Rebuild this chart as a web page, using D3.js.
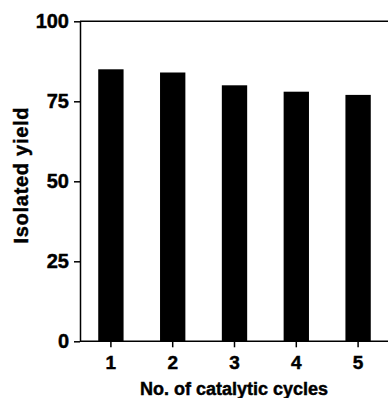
<!DOCTYPE html>
<html>
<head>
<meta charset="utf-8">
<script src="https://cdn.jsdelivr.net/npm/d3@7"></script>
<style>
  html, body { margin: 0; padding: 0; background: #fff; }
  svg { display: block; }
  text { font-family: "Liberation Sans", Arial, Helvetica, sans-serif; font-weight: bold; fill: #000; stroke: #000; stroke-width: 0.45px; }
</style>
</head>
<body>
<svg id="chart" width="388" height="398"></svg>
<script>
const categories = ["1", "2", "3", "4", "5"];
const yieldValues = [85, 84, 80, 78, 77];
const yTickValues = [0, 25, 50, 75, 100];
const xTitle = "No. of catalytic cycles";
const yTitle = "Isolated yield";

(function () {
const svg = d3.select("#chart");
const mLeft = 80, mRight = 389, mTop = 21.3, mBottom = 341.3;

const x = d3.scaleBand().domain(categories).range([mLeft, mRight])
  .paddingInner(0.59).paddingOuter(0.295);
const y = d3.scaleLinear().domain([0, 100]).range([mBottom, mTop]);

// bars
svg.append("g").selectAll("rect").data(categories).join("rect")
  .attr("x", d => x(d))
  .attr("width", x.bandwidth())
  .attr("y", (d, i) => y(yieldValues[i]))
  .attr("height", (d, i) => y(0) - y(yieldValues[i]))
  .attr("fill", "#000");

// top frame line
svg.append("line")
  .attr("x1", mLeft).attr("x2", 388)
  .attr("y1", y(100)).attr("y2", y(100))
  .attr("stroke", "#000").attr("stroke-width", 1.5);

// y axis
const yAxis = svg.append("g")
  .attr("transform", `translate(${mLeft},0)`)
  .call(d3.axisLeft(y).tickValues(yTickValues).tickSize(6).tickPadding(5).tickSizeOuter(0));
yAxis.select(".domain").attr("stroke", "#000").attr("stroke-width", 1.5);
yAxis.selectAll(".tick line").attr("stroke", "#000").attr("stroke-width", 1.5);
yAxis.selectAll(".tick text").attr("font-size", 20).attr("font-family", null).attr("fill", "#000");

// x axis
const xAxis = svg.append("g")
  .attr("transform", `translate(0,${mBottom})`)
  .call(d3.axisBottom(x).tickSize(6).tickPadding(8).tickSizeOuter(0));
xAxis.select(".domain").attr("stroke", "#000").attr("stroke-width", 1.5)
  .attr("d", `M${mLeft},0H388`);
xAxis.selectAll(".tick line").attr("stroke", "#000").attr("stroke-width", 1.5);
xAxis.selectAll(".tick text").attr("font-size", 19).attr("font-family", null).attr("fill", "#000");

// titles
svg.append("text")
  .attr("x", (mLeft + 388) / 2).attr("y", 395)
  .attr("text-anchor", "middle").attr("font-size", 18)
  .text(xTitle);

svg.append("text")
  .attr("transform", "translate(28,175.5) rotate(-90)")
  .attr("text-anchor", "middle").attr("font-size", 20)
  .attr("textLength", 136).attr("lengthAdjust", "spacing")
  .text(yTitle);
})();
</script>
</body>
</html>
